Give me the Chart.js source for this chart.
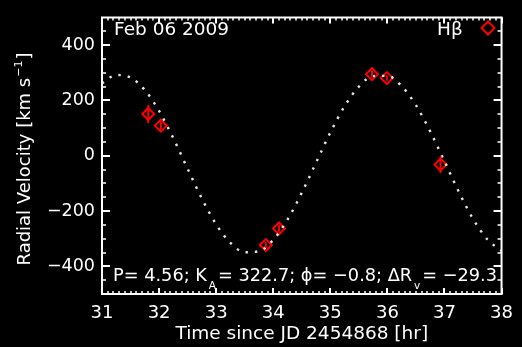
<!DOCTYPE html>
<html lang="en">
<head>
    <meta charset="UTF-8">
    <title>Radial velocity, Feb 06 2009</title>
    <script src="https://cdn.jsdelivr.net/npm/chart.js"></script>
    <style>
        body { margin: 0; padding: 0; background: #000; }
        #wrap { width: 522px; height: 347px; }
    </style>
</head>
<body>
<div id="wrap"><canvas id="rv" width="522" height="347"></canvas></div>
<script>
    // H-beta velocities (hr since JD 2454868, km/s)
    const obsTime = [31.81, 32.03, 33.87, 34.10, 35.73, 35.99, 36.93];
    const obsVel  = [151, 109, -323, -263, 295, 281, -32];
    const obsErr  = [33, 15, 10, 12, 12, 10, 30];

    // fitted orbit (dotted curve), read every 0.25 hr
    const fitTime = [31.00, 31.25, 31.50, 31.75, 32.00, 32.25, 32.50, 32.75, 33.00, 33.25,
                     33.50, 33.75, 34.00, 34.25, 34.50, 34.75, 35.00, 35.25, 35.50, 35.75,
                     36.00, 36.25, 36.50, 36.75, 37.00, 37.25, 37.50, 37.75, 38.00];
    const fitVel  = [262, 292, 283, 238, 162, 63, -47, -155, -248, -315,
                     -349, -345, -304, -231, -134, -25, 84, 179, 250, 288,
                     289, 252, 183, 88, -20, -130, -228, -302, -344];

    const xTicks = [31, 32, 33, 34, 35, 36, 37, 38];
    const yTicks = [-400, -200, 0, 200, 400];

    const FONT = "'DejaVu Sans', sans-serif";
    const RED = '#ff0000';

    // black page behind everything
    const bgPlugin = {
        id: 'bg',
        beforeDraw(chart) {
            const ctx = chart.ctx;
            ctx.save();
            ctx.fillStyle = '#000';
            ctx.fillRect(0, 0, chart.width, chart.height);
            ctx.restore();
        }
    };

    // vertical error bars under the diamonds
    const errPlugin = {
        id: 'errbars',
        afterDatasetsDraw(chart) {
            const ctx = chart.ctx;
            const y = chart.scales.y;
            const meta = chart.getDatasetMeta(1);
            ctx.save();
            ctx.strokeStyle = RED;
            ctx.lineWidth = 2;
            meta.data.forEach((pt, i) => {
                ctx.beginPath();
                ctx.moveTo(pt.x, y.getPixelForValue(obsVel[i] - obsErr[i]));
                ctx.lineTo(pt.x, y.getPixelForValue(obsVel[i] + obsErr[i]));
                ctx.stroke();
            });
            ctx.restore();
        }
    };

    // IDL style box: frame with inward ticks on all four sides
    const framePlugin = {
        id: 'frame',
        afterDraw(chart) {
            const ctx = chart.ctx;
            const {left, right, top, bottom} = chart.chartArea;
            const xs = chart.scales.x, ys = chart.scales.y;
            ctx.save();
            ctx.strokeStyle = '#fff';
            ctx.lineWidth = 2;
            ctx.strokeRect(left, top, right - left, bottom - top);

            for (let i = 0; i <= 70; i++) {
                const v = 31 + i / 10;
                const px = Math.round(xs.getPixelForValue(v));
                const major = i % 10 === 0;
                const len = major ? 6 : 3;
                ctx.lineWidth = major ? 2 : 1.5;
                ctx.beginPath();
                ctx.moveTo(px, bottom); ctx.lineTo(px, bottom - len);
                ctx.moveTo(px, top); ctx.lineTo(px, top + len);
                ctx.stroke();
            }
            for (let v = -450; v <= 450; v += 50) {
                const py = Math.round(ys.getPixelForValue(v));
                const major = v % 200 === 0;
                const len = major ? 8 : 4;
                ctx.lineWidth = major ? 2 : 1.5;
                ctx.beginPath();
                ctx.moveTo(left, py); ctx.lineTo(left + len, py);
                ctx.moveTo(right, py); ctx.lineTo(right - len, py);
                ctx.stroke();
            }
            ctx.restore();
        }
    };

    // labels written inside and beside the box
    const textPlugin = {
        id: 'labels',
        afterDraw(chart) {
            const ctx = chart.ctx;
            ctx.save();
            ctx.fillStyle = '#fff';
            ctx.textAlign = 'left';
            ctx.textBaseline = 'alphabetic';

            ctx.font = '18.5px ' + FONT;
            ctx.fillText('Feb 06 2009', 114, 35);
            ctx.fillText('H\u03b2', 437, 35);

            // legend diamond
            ctx.strokeStyle = RED;
            ctx.lineWidth = 2;
            ctx.beginPath();
            ctx.moveTo(488 - 6.5, 28);
            ctx.lineTo(488, 28 - 6.5);
            ctx.lineTo(488 + 6.5, 28);
            ctx.lineTo(488, 28 + 6.5);
            ctx.closePath();
            ctx.stroke();

            // fit parameters with subscripts, squeezed to the box width
            const parts = [
                ['P= 4.56; K', false],
                ['A', true],
                ['= 322.7; \u03d5= \u22120.8; \u0394R', false],
                ['v', true],
                ['= \u221229.3', false]
            ];
            const mainFont = '18.5px ' + FONT, subFont = '11px ' + FONT;
            let total = 0;
            parts.forEach(([s, sub]) => {
                ctx.font = sub ? subFont : mainFont;
                total += ctx.measureText(s).width + (sub ? 4 : 0);
            });
            ctx.save();
            ctx.translate(113, 0);
            ctx.scale(384 / total, 1);
            let x = 0;
            parts.forEach(([s, sub]) => {
                if (sub) {
                    ctx.font = subFont;
                    ctx.fillText(s, x + 2, 289);
                    x += ctx.measureText(s).width + 4;
                } else {
                    ctx.font = mainFont;
                    ctx.fillText(s, x, 281);
                    x += ctx.measureText(s).width;
                }
            });
            ctx.restore();

            // y axis title with superscript
            ctx.translate(30, 159);
            ctx.rotate(-Math.PI / 2);
            ctx.font = '18px ' + FONT;
            const a = 'Radial Velocity [km s';
            const wa = ctx.measureText(a).width;
            ctx.font = '11px ' + FONT;
            const sup = '\u22121';
            const ws = ctx.measureText(sup).width;
            ctx.font = '18px ' + FONT;
            const wb = ctx.measureText(']').width;
            let sx = -(wa + ws + wb + 2) / 2;
            ctx.fillText(a, sx, 0);
            ctx.font = '11px ' + FONT;
            ctx.fillText(sup, sx + wa + 1, -8);
            ctx.font = '18px ' + FONT;
            ctx.fillText(']', sx + wa + ws + 2, 0);
            ctx.restore();
        }
    };

    new Chart(document.getElementById('rv'), {
        data: {
            datasets: [
                {
                    type: 'line',
                    data: fitTime.map((t, i) => ({x: t, y: fitVel[i]})),
                    borderColor: '#e6e6e6',
                    borderWidth: 2.4,
                    borderDash: [2.4, 7],
                    pointRadius: 0,
                    cubicInterpolationMode: 'monotone',
                    fill: false
                },
                {
                    type: 'scatter',
                    data: obsTime.map((t, i) => ({x: t, y: obsVel[i]})),
                    pointStyle: 'rectRot',
                    pointRadius: 6,
                    borderColor: RED,
                    borderWidth: 2,
                    backgroundColor: 'rgba(0,0,0,0)'
                }
            ]
        },
        options: {
            responsive: false,
            animation: false,
            devicePixelRatio: 1,
            layout: { padding: { top: 11, right: 13, left: 0, bottom: 0 } },
            plugins: { legend: { display: false }, tooltip: { enabled: false } },
            scales: {
                x: {
                    type: 'linear',
                    min: 31, max: 38,
                    grid: { display: false, drawTicks: false },
                    border: { display: false },
                    afterBuildTicks: s => { s.ticks = xTicks.map(v => ({value: v})); },
                    afterFit: s => { s.height = 53; },
                    ticks: {
                        color: '#fff',
                        font: { family: FONT, size: 18 },
                        padding: 9,
                        maxRotation: 0,
                        autoSkip: false
                    },
                    title: {
                        display: true,
                        text: 'Time since JD 2454868 [hr]',
                        color: '#fff',
                        font: { family: FONT, size: 18.5 },
                        padding: { top: 0, bottom: 2 }
                    }
                },
                y: {
                    type: 'linear',
                    min: -500, max: 500,
                    grid: { display: false, drawTicks: false },
                    border: { display: false },
                    afterBuildTicks: s => { s.ticks = yTicks.map(v => ({value: v})); },
                    afterFit: s => { s.width = 102; },
                    ticks: {
                        color: '#fff',
                        font: { family: FONT, size: 17.5 },
                        padding: 7,
                        callback: v => String(v).replace('-', '\u2212')
                    }
                }
            }
        },
        plugins: [bgPlugin, errPlugin, framePlugin, textPlugin]
    });
</script>
</body>
</html>
